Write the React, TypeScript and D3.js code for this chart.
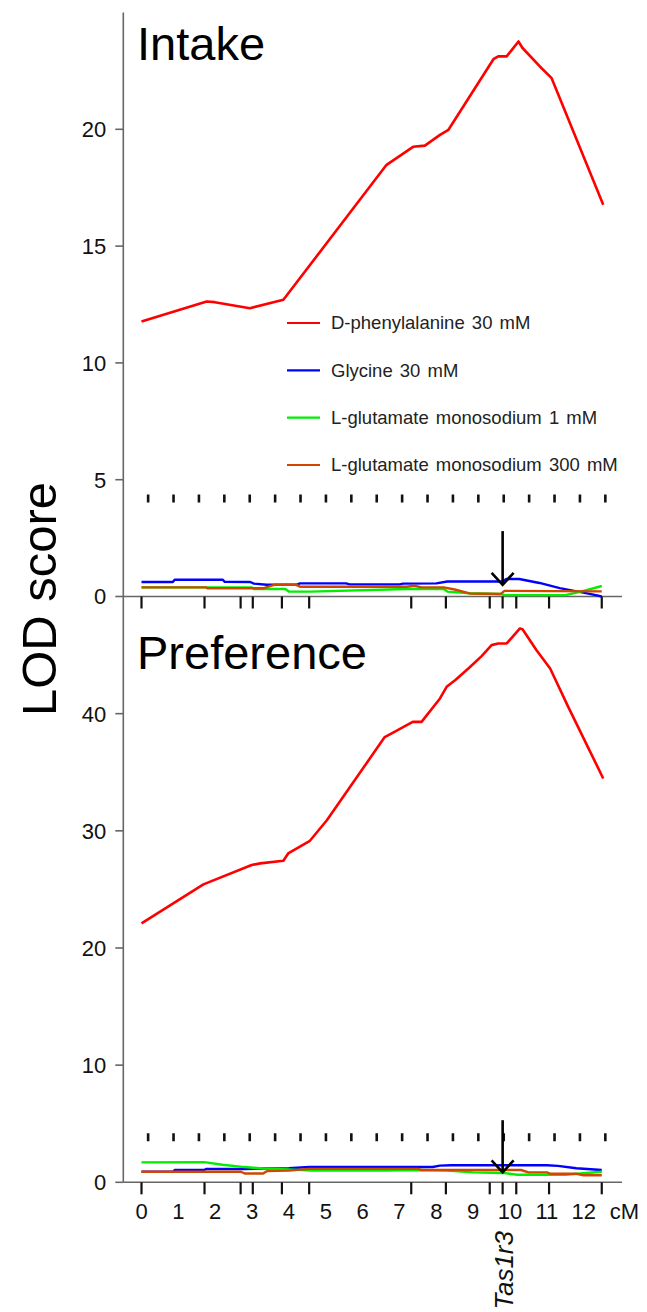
import React from "react";
import * as d3 from "d3";

// marker positions on the chromosome (cM), tick labels and the Tas1r3 locus
const markerCM = [0, 1.71, 2.69, 3.02, 3.81, 4.55, 7.32, 8.26, 9.45, 9.8, 10.17, 11.06, 12.49];
const cmLabels = [0, 1, 2, 3, 4, 5, 6, 7, 8, 9, 10, 11, 12];
const tas1r3CM = 9.8;

const intakeTicks = [0, 5, 10, 15, 20];
const preferenceTicks = [0, 10, 20, 30, 40];

// significance thresholds
const intakeThreshold = 4.2;
const preferenceThreshold = 3.85;

// arrow extents (LOD units)
const intakeArrow = [2.8, 0.5];
const preferenceArrow = [5.3, 0.85];

const seriesNames = [
  "D-phenylalanine 30 mM",
  "Glycine 30 mM",
  "L-glutamate monosodium 1 mM",
  "L-glutamate monosodium 300 mM",
];
const seriesColors = ["#ff0000", "#0000ff", "#00ee00", "#d04800"];

// Intake panel: [cM, LOD]
const intakePhe = [
  [0, 11.77], [1.77, 12.63], [1.99, 12.6], [2.94, 12.34], [3.85, 12.7], [6.65, 18.48],
  [7.37, 19.25], [7.69, 19.3], [8.1, 19.76], [8.33, 19.98], [9.55, 23.0], [9.68, 23.12],
  [9.91, 23.12], [10.05, 23.4], [10.23, 23.76], [10.34, 23.48], [10.81, 22.69],
  [11.13, 22.19], [12.53, 16.77],
];
const intakeGly = [
  [0, 0.62], [0.85, 0.62], [0.9, 0.72], [2.2, 0.72], [2.26, 0.63], [2.95, 0.62], [3.05, 0.55],
  [3.4, 0.5], [4.2, 0.5], [4.3, 0.56], [5.55, 0.56], [5.65, 0.52], [7.0, 0.52], [7.1, 0.55],
  [8.0, 0.56], [8.3, 0.64], [9.8, 0.64], [9.9, 0.75], [10.25, 0.75], [10.8, 0.58],
  [11.35, 0.36], [12.2, 0.1], [12.49, 0],
];
const intakeMsg1 = [
  [0, 0.39], [3.0, 0.39], [3.05, 0.32], [3.9, 0.32], [4.0, 0.21], [4.6, 0.21], [7.2, 0.32],
  [8.2, 0.32], [8.3, 0.21], [8.9, 0.14], [9.75, 0.11], [9.85, 0.06], [11.5, 0.06],
  [11.9, 0.2], [12.49, 0.45],
];
const intakeMsg300 = [
  [0, 0.39], [1.75, 0.39], [1.8, 0.35], [3.3, 0.35], [3.6, 0.5], [4.2, 0.5], [4.3, 0.42],
  [7.2, 0.42], [7.4, 0.46], [7.6, 0.39], [8.2, 0.39], [8.5, 0.3], [8.9, 0.13], [9.75, 0.11],
  [9.85, 0.24], [12.49, 0.22],
];

// Preference panel: [cM, LOD]
const prefPhe = [
  [0, 22.1], [1.68, 25.43], [2.99, 27.08], [3.22, 27.22], [3.85, 27.44], [3.98, 28.07],
  [4.57, 29.15], [5.03, 30.9], [6.6, 38.0], [6.84, 38.4], [7.36, 39.3], [7.6, 39.3],
  [8.1, 41.3], [8.28, 42.29], [8.51, 42.86], [8.87, 43.86], [9.23, 44.91], [9.5, 45.85],
  [9.68, 45.99], [9.91, 45.99], [10.27, 47.27], [10.34, 47.21], [10.72, 45.42],
  [11.09, 43.86], [11.58, 40.58], [12.53, 34.47],
];
const prefGly = [
  [0, 0.9], [0.85, 0.9], [0.9, 1.05], [1.7, 1.05], [1.75, 1.13], [2.8, 1.13], [3.4, 1.18],
  [4.0, 1.2], [4.55, 1.31], [7.9, 1.31], [8.1, 1.42], [8.4, 1.46], [11.0, 1.46],
  [11.3, 1.4], [11.8, 1.2], [12.49, 1.05],
];
const prefMsg1 = [
  [0, 1.7], [1.7, 1.72], [2.2, 1.5], [2.8, 1.3], [3.3, 1.18], [4.0, 1.1], [4.6, 1.0],
  [6.6, 1.0], [7.6, 1.05], [8.3, 1.0], [9.0, 0.85], [9.8, 0.8], [10.2, 0.65], [11.5, 0.65],
  [12.0, 0.77], [12.49, 0.9],
];
const prefMsg300 = [
  [0, 0.9], [2.7, 0.9], [2.8, 0.75], [3.3, 0.75], [3.4, 0.95], [4.0, 1.0], [4.55, 1.15],
  [7.5, 1.15], [7.6, 1.05], [10.3, 1.05], [10.5, 0.85], [11.0, 0.85], [11.1, 0.73],
  [11.8, 0.73], [12.0, 0.6], [12.49, 0.6],
];

const FONT = "'Liberation Sans', Arial, sans-serif";
const W = 647;
const H = 1312;
const axisX = 123.3;
const axisEnd = 622;
const axisColor = "#666";

const x = d3.scaleLinear().domain([0, 12]).range([141.5, 583.7]);

type Panel = {
  title: string;
  y: d3.ScaleLinear<number, number>;
  ticks: number[];
  series: number[][][];
  threshold: number;
  arrow: number[];
  titleY: number;
};

export default function App() {
  const panels: Panel[] = [
    {
      title: "Intake",
      y: d3.scaleLinear().domain([0, 25]).range([596.5, 12.5]),
      ticks: intakeTicks,
      series: [intakePhe, intakeGly, intakeMsg1, intakeMsg300],
      threshold: intakeThreshold,
      arrow: intakeArrow,
      titleY: 60,
    },
    {
      title: "Preference",
      y: d3.scaleLinear().domain([0, 50]).range([1182.3, 596.5]),
      ticks: preferenceTicks,
      series: [prefPhe, prefGly, prefMsg1, prefMsg300],
      threshold: preferenceThreshold,
      arrow: preferenceArrow,
      titleY: 669,
    },
  ];

  const legendY = d3.scaleLinear().domain([0, 3]).range([323, 465]);
  const xLast = x(markerCM[markerCM.length - 1]);

  return (
    <svg
      width={W}
      height={H}
      style={{ position: "absolute", left: 0, top: 0, background: "#fff" }}
      fontFamily={FONT}
    >
      {/* y axis spine shared by both panels */}
      <line x1={axisX} x2={axisX} y1={panels[0].y.range()[1]} y2={panels[1].y(0)} stroke={axisColor} strokeWidth={1.6} />

      {panels.map((p, pi) => {
        const line = d3
          .line<number[]>()
          .x((d) => x(d[0]))
          .y((d) => p.y(d[1]));
        const y0 = p.y(0);
        const ax = x(tas1r3CM);
        const a1 = p.y(p.arrow[0]);
        const a2 = p.y(p.arrow[1]);
        return (
          <g key={pi}>
            <text x={137} y={p.titleY} fontSize={47} fill="#000">
              {p.title}
            </text>
            {p.ticks.map((t) => (
              <g key={t}>
                <line x1={axisX - 8} x2={axisX} y1={p.y(t)} y2={p.y(t)} stroke={axisColor} strokeWidth={1.6} />
                <text x={axisX - 17} y={p.y(t)} dy="0.36em" fontSize={22} textAnchor="end" fill="#111">
                  {t}
                </text>
              </g>
            ))}
            {/* x axis with marker ticks */}
            <line x1={axisX} x2={axisEnd} y1={y0} y2={y0} stroke={axisColor} strokeWidth={1.6} />
            {markerCM.map((m, i) => (
              <line key={i} x1={x(m)} x2={x(m)} y1={y0} y2={y0 + 12} stroke="#111" strokeWidth={2.2} />
            ))}
            {/* threshold row */}
            <line
              x1={x(0.18) - 1.3}
              x2={xLast + 8}
              y1={p.y(p.threshold)}
              y2={p.y(p.threshold)}
              stroke="#111"
              strokeWidth={8}
              strokeDasharray="2.6 22.8"
            />
            {p.series.map((s, si) => (
              <path
                key={si}
                d={line(s) || ""}
                fill="none"
                stroke={seriesColors[si]}
                strokeWidth={si === 0 ? 2.6 : 2.4}
                strokeLinejoin="round"
              />
            ))}
            {/* Tas1r3 arrow */}
            <line x1={ax} x2={ax} y1={a1} y2={a2} stroke="#000" strokeWidth={2.6} />
            <path
              d={`M${ax - 11},${a2 - 12} L${ax},${a2} L${ax + 11},${a2 - 12}`}
              fill="none"
              stroke="#000"
              strokeWidth={2.6}
            />
          </g>
        );
      })}

      {/* legend */}
      {seriesNames.map((n, i) => (
        <g key={n}>
          <line x1={287} x2={320} y1={legendY(i)} y2={legendY(i)} stroke={seriesColors[i]} strokeWidth={2.2} />
          <text x={331} y={legendY(i)} dy="0.35em" fontSize={18.5} fill="#222" wordSpacing={2}>
            {n}
          </text>
        </g>
      ))}

      {/* x tick labels */}
      {cmLabels.map((c) => (
        <text key={c} x={x(c)} y={1219} fontSize={22} textAnchor="middle" fill="#111">
          {c}
        </text>
      ))}
      <text x={x(12) + 26} y={1219} fontSize={22} fill="#111">
        cM
      </text>

      <text
        transform={`translate(${x(tas1r3CM) + 10},1231) rotate(-90)`}
        fontSize={26}
        fontStyle="italic"
        textAnchor="end"
        fill="#111"
      >
        Tas1r3
      </text>

      <text transform={`translate(56,599) rotate(-90)`} fontSize={49} textAnchor="middle" fill="#000">
        LOD score
      </text>
    </svg>
  );
}
